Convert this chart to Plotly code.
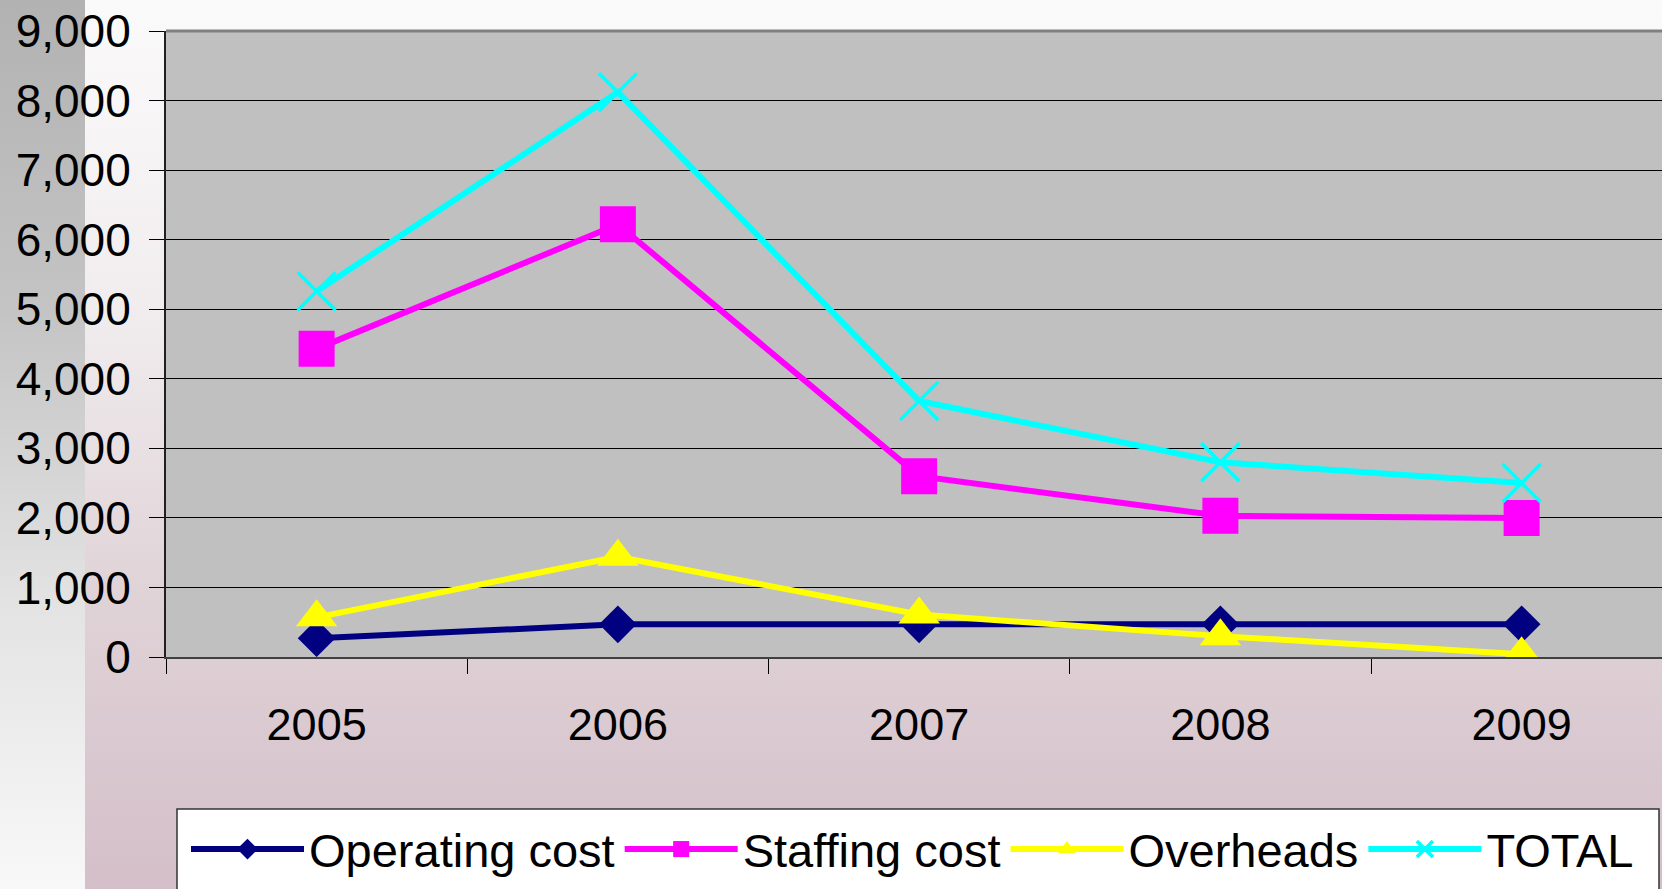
import base64
import plotly.graph_objects as go

years = ["2005", "2006", "2007", "2008", "2009"]
operating_cost = [270, 470, 470, 470, 470]
staffing_cost = [4430, 6220, 2600, 2030, 2000]
overheads = [570, 1440, 610, 300, 40]
total = [5260, 8120, 3680, 2800, 2500]

series_names = ["Operating cost", "Staffing cost", "Overheads", "TOTAL"]
series_values = [operating_cost, staffing_cost, overheads, total]
series_colors = ["#000080", "#FF00FF", "#FFFF00", "#00FFFF"]
series_symbols = ["diamond", "square", "triangle-up", "x-thin"]
series_sizes = [29, 36, 36, 38]

W, H = 1662, 889
L, R, T, B = 166, 0, 31, 232
plot_w = W - L - R
plot_h = H - T - B

FONT = "Liberation Sans, Arial, sans-serif"


def px_x(p):
    return (p - L) / plot_w


def px_y(p):
    return (plot_h + T - p) / plot_h


# background gradient as inline SVG
svg = f"""<svg xmlns='http://www.w3.org/2000/svg' width='{W}' height='{H}' viewBox='0 0 {W} {H}' preserveAspectRatio='none'>
<defs>
<linearGradient id='a' x1='0' y1='0' x2='0' y2='1'>
<stop offset='0' stop-color='#b2b2b2'/><stop offset='0.35' stop-color='#c4c4c4'/>
<stop offset='0.68' stop-color='#e3e3e3'/><stop offset='1' stop-color='#f8f8f8'/></linearGradient>
<linearGradient id='b' x1='0' y1='0' x2='0' y2='1'>
<stop offset='0' stop-color='#fbfafb'/><stop offset='0.34' stop-color='#f1edef'/>
<stop offset='0.68' stop-color='#dfd2d7'/><stop offset='1' stop-color='#d4bfc8'/></linearGradient>
</defs>
<rect x='0' y='0' width='85' height='{H}' fill='url(#a)'/>
<rect x='85' y='0' width='{W-85}' height='{H}' fill='url(#b)'/>
</svg>"""
svg_uri = "data:image/svg+xml;base64," + base64.b64encode(svg.encode()).decode()

fig = go.Figure()
for name, vals, col, sym, sz in zip(series_names, series_values, series_colors, series_symbols, series_sizes):
    fig.add_trace(go.Scatter(
        x=years, y=vals, name=name, mode="lines+markers",
        line=dict(color=col, width=6),
        marker=dict(symbol=sym, size=sz, color=col,
                    line=dict(width=3.5 if sym == "x-thin" else 0, color=col)),
    ))

cat_w = 301.25
x_max = -0.5 + plot_w / cat_w

fig.update_layout(
    width=W, height=H,
    margin=dict(l=L, r=R, t=T, b=B, pad=0),
    paper_bgcolor="white",
    plot_bgcolor="rgba(0,0,0,0)",
    font=dict(family=FONT, size=45, color="black"),
    showlegend=True,
    legend=dict(
        orientation="h",
        x=px_x(186), xanchor="left",
        y=px_y(812), yanchor="top",
        font=dict(family=FONT, size=47, color="black"),
        bgcolor="rgba(0,0,0,0)", borderwidth=0,
        itemwidth=113, itemsizing="trace",
    ),
    xaxis=dict(
        type="category", range=[-0.5, x_max], tickson="boundaries",
        ticks="outside", ticklen=15, tickcolor="black", tickwidth=1,
        showgrid=False, showline=True, linecolor="#404040", linewidth=2,
        tickfont=dict(family=FONT, size=45), ticklabelstandoff=27,
        fixedrange=True,
    ),
    yaxis=dict(
        range=[0, 9000], dtick=1000, tickformat=",d",
        ticks="outside", ticklen=15, tickcolor="black", tickwidth=1,
        showgrid=True, gridcolor="black", gridwidth=1, zeroline=False,
        showline=True, linecolor="#202020", linewidth=2,
        tickfont=dict(family=FONT, size=46), ticklabelstandoff=9,
        fixedrange=True,
    ),
    images=[dict(
        source=svg_uri, xref="paper", yref="paper",
        x=-L / plot_w, y=(plot_h + T) / plot_h,
        sizex=W / plot_w, sizey=H / plot_h,
        xanchor="left", yanchor="top", sizing="stretch", layer="below",
    )],
    shapes=[
        # plot area fill
        dict(type="rect", xref="paper", yref="paper", x0=0, x1=1, y0=0, y1=1,
             fillcolor="#C0C0C0", line=dict(width=0), layer="below"),
        # top border of plot area
        dict(type="line", xref="paper", yref="paper", x0=0, x1=1, y0=1, y1=1,
             line=dict(color="#808080", width=3)),
        # legend box
        dict(type="rect", xref="paper", yref="paper",
             x0=px_x(177), x1=px_x(1659), y0=px_y(895), y1=px_y(809),
             fillcolor="white", line=dict(color="#333333", width=1.5), layer="above"),
    ],
)

fig.write_html(
    "out.html",
    config={"displayModeBar": False, "staticPlot": False},
    post_script="document.body.style.margin='0';document.body.style.overflow='hidden';",
)
